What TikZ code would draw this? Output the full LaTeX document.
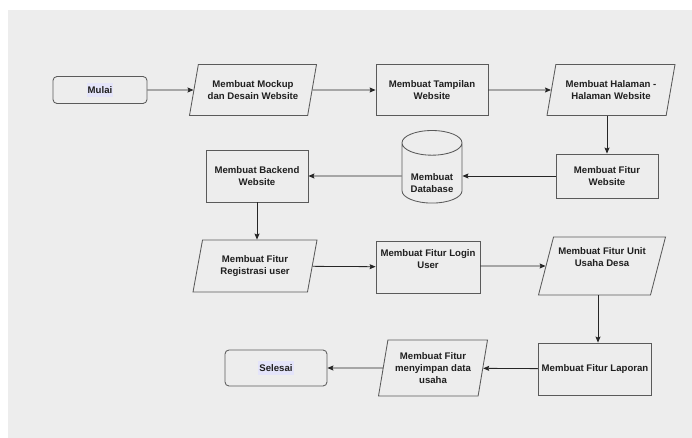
\documentclass[tikz,border=0pt]{standalone}
\usepackage{fontspec}
\setmainfont{Liberation Sans}
\usetikzlibrary{shapes.geometric,arrows.meta}
\definecolor{latar}{HTML}{EDEDED}
\definecolor{garis}{HTML}{5A5A5A}
\definecolor{tanda}{HTML}{E4E4FA}
\tikzset{every node/.style={font=\fontsize{9.6}{12}\selectfont\bfseries,text=black!88,align=center},
         proses/.style={draw=garis,line width=0.85pt,fill=latar,rectangle},
         data/.style={proses,trapezium,trapezium left angle=71,trapezium right angle=109,
                      trapezium stretches body,inner xsep=2pt},
         terminal/.style={proses,rounded corners=4pt},
         basisdata/.style={proses,cylinder,shape border rotate=90,aspect=0.5},
         alur/.style={draw=black!85,line width=0.8pt,-{Stealth[length=6pt,width=5pt,inset=1pt]}}}

\begin{document}
\begin{tikzpicture}[x=1pt,y=-1pt]
\useasboundingbox (0,0) rectangle (692,438);
\fill[white] (0,0) rectangle (692,438);
\fill[latar] (8,10) rectangle (692,438);

\node[terminal,minimum width=94,minimum height=27] (mulai) at (100,90) {\colorbox{tanda}{\kern-2pt Mulai\kern-2pt}};
\node[data,minimum width=127,minimum height=51] (mockup) at (253,90) {Membuat Mockup\\dan Desain Website};
\node[proses,minimum width=112,minimum height=51] (tampilan) at (432,90) {Membuat Tampilan\\Website};
\node[data,minimum width=128,minimum height=51] (halaman) at (611,90) {Membuat Halaman -\\Halaman Website};

\node[proses,minimum width=102,minimum height=44] (fiturweb) at (607,176) {Membuat Fitur\\Website};
\node[basisdata,minimum width=60,minimum height=69] (database) at (432,176) {\rule{0pt}{22pt}Membuat\\Database};
\node[proses,minimum width=102,minimum height=52] (backend) at (257,176) {Membuat Backend\\Website};

\node[data,minimum width=124,minimum height=52] (registrasi) at (255,266) {Membuat Fitur\\Registrasi user};
\node[proses,minimum width=104,minimum height=52] (login) at (428,267) {Membuat Fitur Login\\User\\[4pt]};
\node[data,minimum width=127,minimum height=58] (unitusaha) at (602,266) {Membuat Fitur Unit\\Usaha Desa\\[6pt]};

\node[proses,minimum width=112,minimum height=52] (laporan) at (595,369) {Membuat Fitur Laporan};
\node[data,trapezium left angle=76,trapezium right angle=104,minimum width=109,minimum height=56] (simpan) at (433,368) {Membuat Fitur\\menyimpan data\\usaha};
\node[terminal,minimum width=102,minimum height=36] (selesai) at (276,368) {\colorbox{tanda}{\kern-2pt Selesai\kern-2pt}};

\draw[alur] (mulai) -- (mockup);
\draw[alur] (mockup) -- (tampilan);
\draw[alur] (tampilan) -- (halaman);
\draw[alur] (fiturweb |- halaman.south) -- (fiturweb.north);
\draw[alur] (fiturweb) -- (database);
\draw[alur] (database) -- (backend);
\draw[alur] (backend.south) -- (backend.south |- registrasi.north);
\draw[alur] (registrasi) -- (login);
\draw[alur] (login.east |- registrasi) -- (unitusaha);
\draw[alur] ([xshift=3pt]laporan.north |- unitusaha.south) -- ([xshift=3pt]laporan.north);
\draw[alur] (laporan) -- (simpan);
\draw[alur] (simpan) -- (selesai);
\end{tikzpicture}
\end{document}
